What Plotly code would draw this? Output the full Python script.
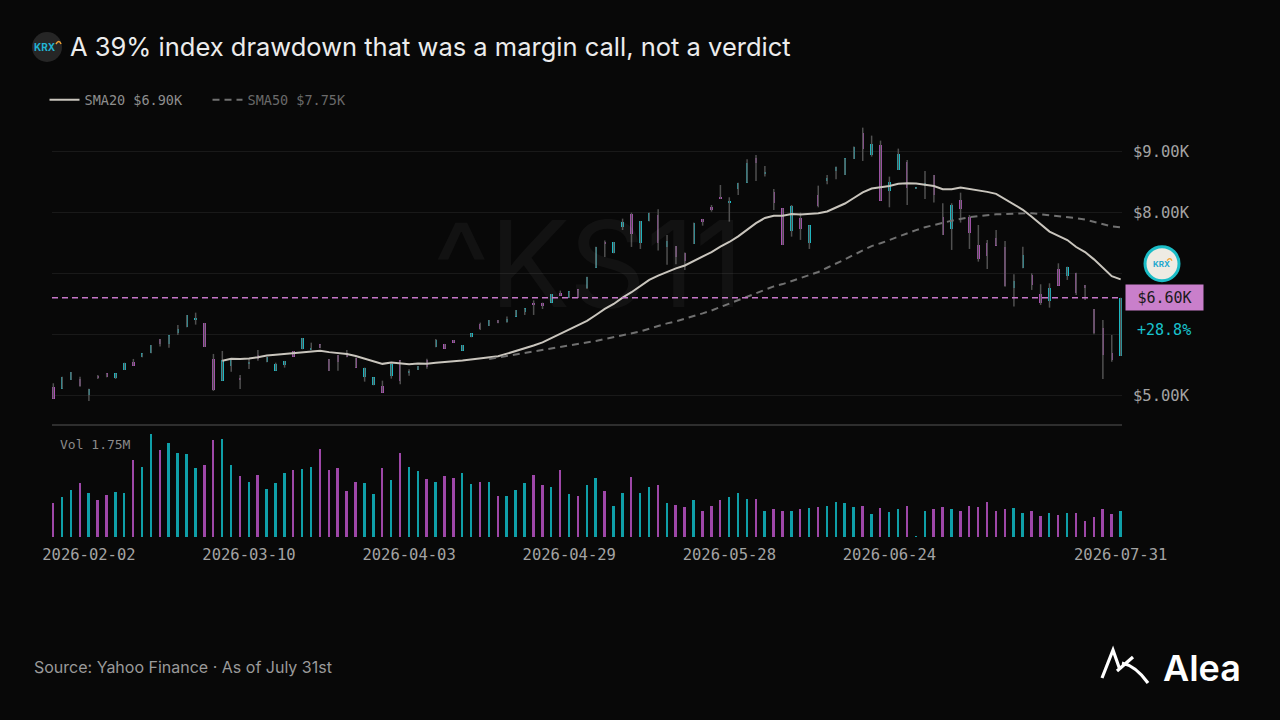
import plotly.graph_objects as go
import pandas as pd

# ---------------- data ----------------
open_ = [5142, 5109, 5251, 5262, 5005, 5322, 5361, 5279, 5415, 5541,
         5623, 5689, 5924, 5842, 6016, 6115, 6235, 6186, 5601, 5240,
         5481, 5279, 5519, 5667, 5541, 5404, 5497, 5727, 5754, 5743,
         5836, 5596, 5661, 5689, 5617, 5295, 5164, 5159, 5322, 5574,
         5361, 5415, 5579, 5787, 5842, 5907, 5732, 5951, 6169, 6137,
         6235, 6197, 6290, 6372, 6519, 6519, 6519, 6678, 6596, 6738,
         6765, 7093, 7519, 7328, 7754, 7967, 7492, 7852, 7956, 7432,
         7448, 7339, 7481, 7891, 8093, 8257, 8159, 8383, 8486, 8896,
         8628, 8339, 8066, 7700, 7913, 7492, 8284, 8519, 8683, 8612,
         8874, 9306, 8940, 9104, 8350, 8694, 8831, 8383, 8432, 8612,
         7929, 7727, 8202, 7929, 7465, 7503, 7574, 7432, 6765, 7082,
         6973, 6656, 6547, 7071, 6956, 7011, 6809, 6415, 6109, 5700,
         5645]
high = [5197, 5306, 5383, 5306, 5109, 5333, 5361, 5361, 5535, 5596,
        5689, 5825, 5924, 5984, 6153, 6317, 6355, 6186, 5678, 5727,
        5590, 5333, 5607, 5743, 5634, 5535, 5563, 5727, 5940, 5863,
        5836, 5596, 5661, 5743, 5617, 5454, 5295, 5240, 5508, 5574,
        5426, 5481, 5601, 5924, 5842, 5907, 5825, 6016, 6191, 6235,
        6235, 6290, 6399, 6426, 6557, 6519, 6661, 6716, 6705, 6738,
        6945, 7437, 7536, 7514, 7896, 7995, 7858, 7995, 8049, 7628,
        7448, 7339, 7831, 7891, 8120, 8448, 8246, 8486, 8869, 8940,
        8760, 8383, 8066, 8120, 7995, 7787, 8437, 8612, 8749, 8885,
        9077, 9388, 9257, 9175, 8585, 9044, 8858, 8410, 8678, 8612,
        8148, 8148, 8322, 7956, 7792, 7547, 7710, 7530, 6984, 7437,
        7000, 6820, 6836, 7164, 7109, 7011, 6809, 6415, 6235, 5989,
        6600]
low = [4945, 5109, 5251, 5142, 4907, 5268, 5295, 5268, 5415, 5486,
       5623, 5689, 5798, 5781, 5989, 6115, 6159, 5792, 5071, 5240,
       5388, 5104, 5432, 5568, 5541, 5404, 5454, 5634, 5754, 5743,
       5770, 5399, 5404, 5623, 5454, 5224, 5164, 5044, 5273, 5180,
       5322, 5415, 5437, 5787, 5765, 5863, 5732, 5951, 6071, 6137,
       6180, 6191, 6290, 6317, 6317, 6415, 6519, 6634, 6596, 6601,
       6743, 7093, 7268, 7328, 7710, 7432, 7399, 7852, 7372, 7142,
       7148, 7055, 7481, 7781, 8011, 8219, 7847, 8284, 8486, 8514,
       8585, 8038, 7465, 7601, 7547, 7399, 8082, 8459, 8541, 8612,
       8874, 8842, 8913, 8191, 8082, 8694, 8120, 8383, 8219, 8159,
       7628, 7383, 7831, 7399, 7191, 7071, 7454, 6781, 6454, 7082,
       6727, 6481, 6437, 6798, 6891, 6645, 6563, 6000, 5268, 5552,
       5645]
close = [4945, 5306, 5383, 5153, 5109, 5279, 5295, 5361, 5535, 5486,
         5689, 5825, 5842, 5984, 6088, 6317, 6251, 5792, 5088, 5579,
         5590, 5251, 5552, 5596, 5634, 5508, 5563, 5634, 5940, 5776,
         5770, 5399, 5546, 5634, 5454, 5454, 5295, 5044, 5508, 5240,
         5404, 5481, 5470, 5907, 5765, 5863, 5825, 6016, 6082, 6235,
         6180, 6251, 6399, 6426, 6475, 6464, 6661, 6634, 6705, 6601,
         6945, 7426, 7481, 7514, 7842, 7639, 7858, 7995, 7492, 7530,
         7273, 7202, 7831, 7847, 8038, 8219, 8191, 8486, 8814, 8803,
         8650, 8148, 7465, 8104, 7727, 7787, 8104, 8557, 8749, 8885,
         9077, 9033, 9120, 8191, 8492, 8951, 8404, 8410, 8475, 8284,
         7628, 8120, 8049, 7656, 7230, 7284, 7454, 6798, 6869, 7301,
         6809, 6508, 6754, 6798, 7109, 6672, 6754, 6016, 5661, 5579,
         6600]
volume_m = [0.58, 0.68, 0.80, 0.92, 0.75, 0.63, 0.72, 0.76, 0.75, 1.30,
            1.19, 1.75, 1.48, 1.60, 1.43, 1.41, 1.17, 1.23, 1.64, 1.66,
            1.23, 1.03, 0.93, 1.06, 0.81, 0.91, 1.09, 1.14, 1.15, 1.19,
            1.49, 1.13, 1.17, 0.78, 0.93, 0.91, 0.73, 1.17, 0.97, 1.43,
            1.19, 1.12, 0.98, 0.93, 1.03, 1.00, 1.09, 0.90, 0.93, 0.93,
            0.69, 0.69, 0.80, 0.91, 1.05, 0.89, 0.85, 1.14, 0.73, 0.69,
            0.88, 1.00, 0.78, 0.52, 0.74, 1.02, 0.74, 0.85, 0.89, 0.57,
            0.54, 0.51, 0.63, 0.44, 0.52, 0.63, 0.68, 0.74, 0.64, 0.64,
            0.44, 0.47, 0.45, 0.45, 0.47, 0.49, 0.51, 0.52, 0.60, 0.58,
            0.51, 0.52, 0.39, 0.49, 0.42, 0.47, 0.52, 0.01, 0.45, 0.48,
            0.51, 0.47, 0.45, 0.52, 0.51, 0.59, 0.45, 0.48, 0.50, 0.40,
            0.44, 0.35, 0.40, 0.37, 0.40, 0.40, 0.28, 0.34, 0.47, 0.39,
            0.44]
tick_index = [4, 22, 40, 58, 76, 94, 120]
tick_labels = ["2026-02-02", "2026-03-10", "2026-04-03", "2026-04-29",
               "2026-05-28", "2026-06-24", "2026-07-31"]
price_ticks = [5000, 6000, 7000, 8000, 9000]
price_tick_labels = ["$5.00K", "", "", "$8.00K", "$9.00K"]
title_text = "A 39% index drawdown that was a margin call, not a verdict"
change_text = "+28.8%"
source_text = "Source: Yahoo Finance · As of July 31st"
ticker_text = "^KS11"

# ---------------- styling ----------------
BG = "#080808"
UP = "#19c2cd"
DOWN = "#b352bd"
UP_VOL = "#0f9fa8"
DOWN_VOL = "#9e47a8"
WICK = "#505050"
MONO = "DejaVu Sans Mono"
SANS = "Inter"

idx = list(range(len(close)))
is_up = [c >= o for o, c in zip(open_, close)]
body_base = [min(o, c) for o, c in zip(open_, close)]
body_h = [max(abs(c - o), 12) for o, c in zip(open_, close)]
body_col = [UP if u else DOWN for u in is_up]
vol_col = [UP_VOL if u else DOWN_VOL for u in is_up]

s = pd.Series(close, dtype=float)
sma20 = s.rolling(20).mean()
sma50 = s.rolling(50).mean()

wx, wy = [], []
for i, (h, l) in enumerate(zip(high, low)):
    wx += [i, i, None]
    wy += [l, h, None]

fig = go.Figure()

fig.add_trace(go.Scatter(x=wx, y=wy, mode="lines", line=dict(color=WICK, width=1.5),
                         hoverinfo="skip", showlegend=False, xaxis="x", yaxis="y"))
fig.add_trace(go.Bar(x=idx, y=body_h, base=body_base, width=0.27,
                     marker=dict(color=body_col, line=dict(width=0)),
                     showlegend=False, xaxis="x", yaxis="y"))
fig.add_trace(go.Scatter(x=idx, y=sma20, mode="lines",
                         line=dict(color="#c9c5bd", width=2),
                         name=f"SMA20 ${sma20.iloc[-1]/1000:.2f}K", xaxis="x", yaxis="y"))
fig.add_trace(go.Scatter(x=idx, y=sma50, mode="lines",
                         line=dict(color="#707070", width=2, dash="7px,5px"),
                         name=f"<span style='color:#6a6a6a'>SMA50 ${sma50.iloc[-1]/1000:.2f}K</span>",
                         xaxis="x", yaxis="y"))
fig.add_trace(go.Bar(x=idx, y=volume_m, width=0.22,
                     marker=dict(color=vol_col, line=dict(width=0)),
                     showlegend=False, xaxis="x", yaxis="y2"))

# geometry: plot area x 52..1122, y 125..537 (px)
L, R, T, B = 52, 158, 125, 183
W, H = 1280, 720
ph = H - T - B
split = (537 - 425) / ph
px_per_k = 61.0
price_top = 9000 + (151.3 - T) / px_per_k * 1000
price_bot = 9000 - (425 - 151.3) / px_per_k * 1000
vmax = max(volume_m)
vol_top = vmax * 112 / 103

last = close[-1]

fig.update_layout(
    width=W, height=H,
    paper_bgcolor=BG, plot_bgcolor=BG,
    margin=dict(l=L, r=R, t=T, b=B),
    barmode="overlay", bargap=0,
    showlegend=True,
    legend=dict(orientation="h", x=-0.007, xanchor="left", y=1 + 25 / ph, yanchor="middle",
                font=dict(family=MONO, size=13.5, color="#8e8e8e"),
                bgcolor="rgba(0,0,0,0)", itemwidth=30, entrywidth=118,
                traceorder="normal"),
    title=dict(text=title_text, x=70 / W, xanchor="left", xref="container",
               y=1 - 47 / H, yanchor="middle", yref="container",
               font=dict(family=SANS, size=25.5, color="#ececec")),
    xaxis=dict(range=[-0.15, len(close) - 1 + 0.15], anchor="y2",
               tickvals=tick_index, ticktext=tick_labels,
               tickfont=dict(family=MONO, size=15.5, color="#a3a3a3"),
               showgrid=False, zeroline=False, showline=False, ticks="",
               ticklabelstandoff=6, fixedrange=True),
    yaxis=dict(domain=[split, 1], range=[price_bot, price_top], side="right",
               tickvals=price_ticks, ticktext=price_tick_labels,
               tickfont=dict(family=MONO, size=15.5, color="#a3a3a3"),
               showgrid=True, gridcolor="#191919", gridwidth=1,
               zeroline=False, showline=False, ticks="", ticklabelstandoff=10),
    yaxis2=dict(domain=[0, split], range=[0, vol_top], showgrid=False,
                showticklabels=False, zeroline=False, showline=False, ticks=""),
)

shapes = [
    # panel separator
    dict(type="line", xref="paper", yref="paper", x0=0, x1=1, y0=split, y1=split,
         line=dict(color="#2e2e2e", width=2)),
    # last price line
    dict(type="line", xref="paper", yref="y", x0=0, x1=1, y0=last, y1=last,
         line=dict(color="#c576c9", width=1.5, dash="6px,4px")),
    # right KRX badge
    dict(type="circle", xref="paper", yref="y", xanchor=1, yanchor=last,
         xsizemode="pixel", ysizemode="pixel", x0=23, x1=57, y0=17, y1=51,
         fillcolor="#eeebe3", line=dict(color="#1bbdc7", width=3)),
    dict(type="path", xref="paper", yref="y", xanchor=1, yanchor=last,
         xsizemode="pixel", ysizemode="pixel", path="M 45,37 Q 48,41 50,37",
         line=dict(color="#f0a030", width=1.2)),
    # top-left KRX badge
    dict(type="circle", xref="paper", yref="paper", xanchor=0, yanchor=1,
         xsizemode="pixel", ysizemode="pixel", x0=-20, x1=10, y0=63, y1=93,
         fillcolor="#262626", line=dict(width=0)),
    dict(type="path", xref="paper", yref="paper", xanchor=0, yanchor=1,
         xsizemode="pixel", ysizemode="pixel", path="M 4,81 Q 7,86 9,81",
         line=dict(color="#f0a030", width=1.5)),
    # Alea mark
    dict(type="path", xref="paper", yref="paper", xanchor=1, yanchor=0,
         xsizemode="pixel", ysizemode="pixel",
         path="M -20,-141 L -9,-113 L -2,-133 M -5,-134 L 11,-120 M 0,-126 Q 14,-129 26,-146",
         line=dict(color="#ffffff", width=3.2)),
]
fig.update_layout(shapes=shapes)

ann = [
    dict(text=ticker_text, xref="paper", yref="paper", x=(588 - L) / (W - L - R),
         y=(537 - 263) / ph, showarrow=False, xanchor="center", yanchor="middle",
         font=dict(family=SANS, size=120, color="rgba(255,255,255,0.045)")),
    dict(text=f"Vol {vmax:.2f}M", xref="paper", yref="paper", x=0, y=split,
         xshift=6, yshift=-19, xanchor="left", yanchor="middle", showarrow=False,
         font=dict(family=MONO, size=13, color="#8a8a8a")),
    dict(text=f"${last/1000:.2f}K", xref="paper", yref="y", x=1, y=last,
         xshift=3, xanchor="left", yanchor="middle", showarrow=False,
         width=75, height=23, bgcolor="#c97fcb",
         font=dict(family=MONO, size=15, color="#1a1a1a")),
    dict(text=change_text, xref="paper", yref="y", x=1, y=last, xshift=13, yshift=-32,
         xanchor="left", yanchor="middle", showarrow=False,
         font=dict(family=MONO, size=15, color=UP)),
    dict(text="<b>KRX</b>", xref="paper", yref="y", x=1, y=last, xshift=39, yshift=34,
         xanchor="center", yanchor="middle", showarrow=False,
         font=dict(family=SANS, size=8, color="#22a8cf")),
    dict(text="<b>KRX</b>", xref="paper", yref="paper", x=0, y=1, xshift=-7, yshift=78,
         xanchor="center", yanchor="middle", showarrow=False,
         font=dict(family=SANS, size=10, color="#22b3d3")),
    dict(text=source_text, xref="paper", yref="paper", x=0, y=0, xshift=-20, yshift=-130,
         xanchor="left", yanchor="middle", showarrow=False,
         font=dict(family=SANS, size=16, color="#9a9a9a")),
    dict(text="Alea", xref="paper", yref="paper", x=1, y=0, xshift=121, yshift=-131,
         xanchor="right", yanchor="middle", showarrow=False,
         font=dict(family=SANS, size=36, color="#ffffff", weight=600)),
]
fig.update_layout(annotations=ann)

fig.write_html(
    "out.html",
    config={"displayModeBar": False},
    post_script=(
        "document.documentElement.style.margin='0';"
        "document.documentElement.style.background='" + BG + "';"
        "document.body.style.margin='0';"
        "document.body.style.background='" + BG + "';"
        "document.body.style.overflow='hidden';"
    ),
)
